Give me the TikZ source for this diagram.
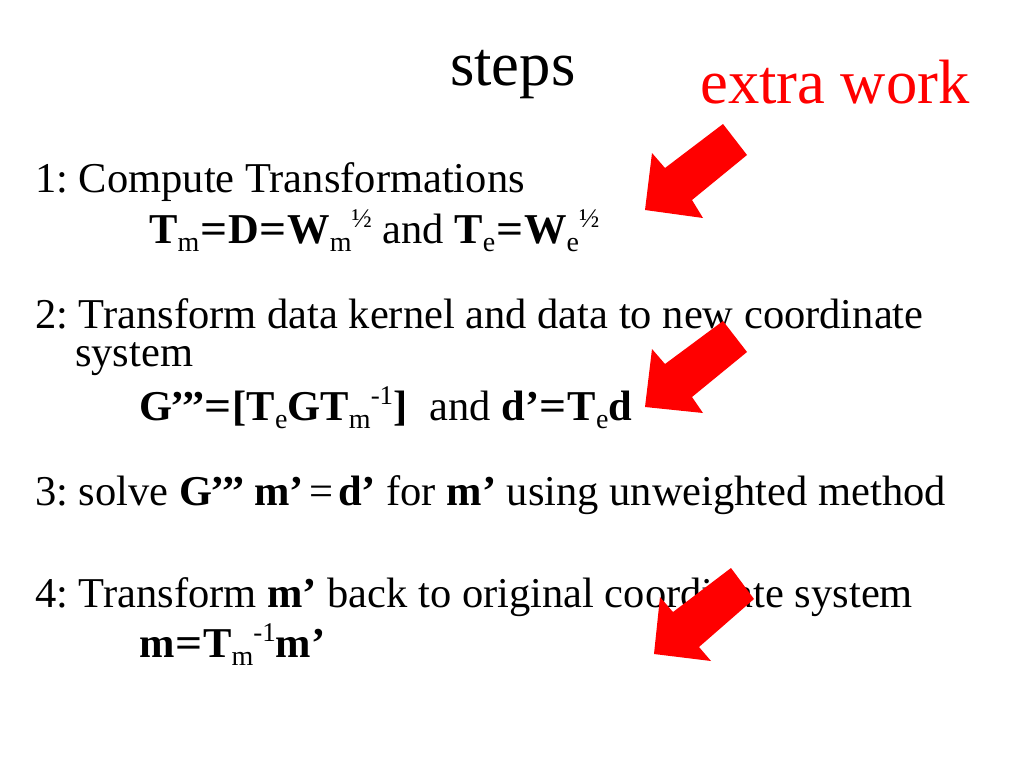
\documentclass[tikz,border=0pt]{standalone}
\usepackage{fontspec}
\usepackage{graphicx}
\setmainfont{Liberation Serif}
\frenchspacing
\newcommand\lowsub[1]{\raisebox{-8pt}{\fontsize{28}{28}\selectfont\mdseries #1}}
\newcommand\highsup[1]{\raisebox{16pt}{\fontsize{27}{27}\selectfont\mdseries #1}}
\newcommand\pr{\kern-1.8pt’\kern-1.8pt}
\newcommand\beq{\kern0.8pt\scalebox{1.12}[1]{=}\kern0.8pt}
\definecolor{arrowred}{RGB}{255,0,0}
\tikzset{
  txt/.style={anchor=base west, inner sep=0pt, font=\fontsize{42.5}{50}\selectfont},
  ttl/.style={anchor=base west, inner sep=0pt, font=\fontsize{62.6}{70}\selectfont},
  redarrow/.style={fill=arrowred, draw=none}
}
\begin{document}
\begin{tikzpicture}[x=1pt,y=-1pt]
\useasboundingbox (0,0) rectangle (1024,768);
\node[ttl] (title) at (450,85) {steps};
\node[ttl, text=arrowred] (extra) at (700,103) {extra work};
\node[txt] (s1) at (35,192) {1: Compute Transformations};
\node[txt] (f1) at (149,243) {\textbf{T}\lowsub{m}\textbf{\beq D\beq W}\lowsub{m}\highsup{½} and \textbf{T}\lowsub{e}\textbf{\beq W}\lowsub{e}\highsup{½}};
\node[txt] (s2) at (35,328) {2: Transform data kernel and data to new coordinate};
\node[txt] (s2b) at (75,366) {system};
\node[txt] (f2) at (139,420) {\textbf{G\pr\pr\pr\beq[T}\lowsub{e}\textbf{GT}\lowsub{m}\highsup{-1}\textbf{]}\hspace{22pt}and \textbf{d’\beq T}\lowsub{e}\textbf{d}};
\node[txt] (s3) at (35,505) {3: solve \textbf{G\pr\pr\pr{} m’}\hspace{5pt}=\hspace{5pt}\textbf{d’} for \textbf{m’} using unweighted method};
\node[txt] (s4) at (35,607) {4: Transform \textbf{m’} back to original coordinate system};
\node[txt] (f4) at (139,657) {\textbf{m\beq T}\lowsub{m}\highsup{-1}\textbf{m’}};
% arrows
\fill[redarrow] (645,210) -- (652,153) -- (665,168) -- (723,124) -- (747,155) -- (692,200) -- (703,218) -- cycle;
\fill[redarrow] (645,407) -- (652,349) -- (665,364) -- (723,321) -- (747,352) -- (692,397) -- (703,413) -- cycle;
\fill[redarrow] (654,654) -- (660,597) -- (673,612) -- (731,568) -- (754,599) -- (699,647) -- (711,661) -- cycle;
\end{tikzpicture}
\end{document}
